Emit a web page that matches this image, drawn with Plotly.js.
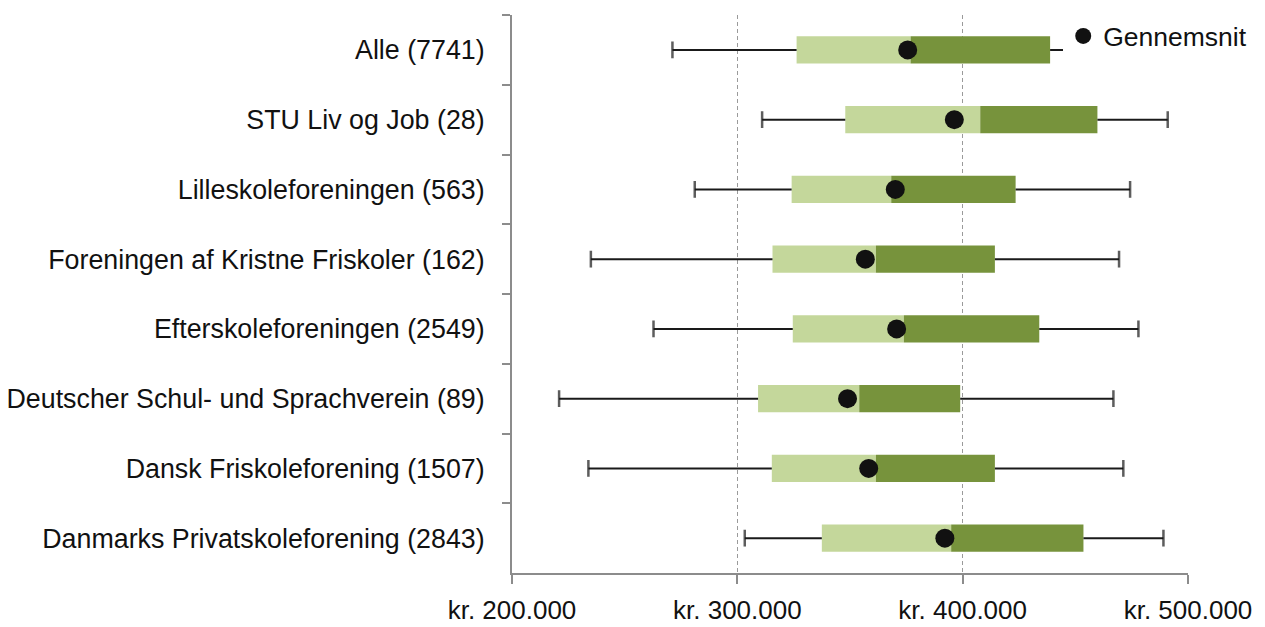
<!DOCTYPE html>
<html>
<head>
<meta charset="utf-8">
<script src="https://cdn.plot.ly/plotly-3.0.1.min.js"></script>
<style>html,body{margin:0;padding:0;background:#fff;}#chart{width:1265px;height:627px;}</style>
</head>
<body>
<div id="chart"></div>
<script>
// Data (kr.)
const categories = [
  "Alle (7741)",
  "STU Liv og Job (28)",
  "Lilleskoleforeningen (563)",
  "Foreningen af Kristne Friskoler (162)",
  "Efterskoleforeningen (2549)",
  "Deutscher Schul- und Sprachverein (89)",
  "Dansk Friskoleforening (1507)",
  "Danmarks Privatskoleforening (2843)"
];
const minVals    = [271200, 311000, 281100, 235000, 262800, 220900, 233900, 303300];
const q1Vals     = [326300, 347900, 324100, 315600, 324600, 309200, 315300, 337500];
const medianVals = [376900, 407800, 368300, 361500, 373900, 354100, 361500, 394900];
const q3Vals     = [438800, 459800, 423500, 414300, 434000, 398900, 414300, 453600];
const maxVals    = [454800, 491000, 474300, 469400, 478000, 466900, 471300, 489100];
const meanVals   = [375600, 396300, 370100, 356800, 370700, 348900, 358300, 392100];
const tickVals   = [200000, 300000, 400000, 500000];
const tickLabels = ["kr. 200.000", "kr. 300.000", "kr. 400.000", "kr. 500.000"];
const meanLabel  = "Gennemsnit";

const FONT = "Liberation Sans, Arial, sans-serif";

const lowerBox = {
  type: "bar", orientation: "h", y: categories,
  base: q1Vals, x: q1Vals.map((v, i) => medianVals[i] - v),
  marker: { color: "#C4D79B" }, width: 0.39, showlegend: false, hoverinfo: "skip"
};
const upperBox = {
  type: "bar", orientation: "h", y: categories,
  base: medianVals, x: medianVals.map((v, i) => q3Vals[i] - v),
  marker: { color: "#77933C" }, width: 0.39, showlegend: false, hoverinfo: "skip"
};

// Whiskers
const wx = [], wy = [], ws = [];
categories.forEach((c, i) => {
  wx.push(minVals[i], q1Vals[i], null, q3Vals[i], maxVals[i], null);
  wy.push(c, c, null, c, c, null);
  ws.push(12, 0, 0, 0, 12, 0);
});
const whiskers = {
  type: "scatter", mode: "lines+markers", x: wx, y: wy,
  line: { color: "#1a1a1a", width: 2 },
  marker: { symbol: "line-ns", size: ws, color: "#1a1a1a", line: { color: "#1a1a1a", width: 2.5 } },
  showlegend: false, hoverinfo: "skip", connectgaps: false
};

const means = {
  type: "scatter", mode: "markers", x: meanVals, y: categories, name: meanLabel,
  marker: { color: "#111", size: 19, symbol: "circle" }, showlegend: true
};

const layout = {
  width: 1265, height: 627,
  margin: { l: 512, r: 77, t: 15, b: 54, pad: 0 },
  paper_bgcolor: "#fff", plot_bgcolor: "#fff",
  barmode: "overlay",
  font: { family: FONT, size: 26, color: "#111" },
  showlegend: true,
  legend: {
    xref: "paper", yref: "paper",
    x: 1.095, xanchor: "right", y: 1.005, yanchor: "top",
    bgcolor: "#fff", font: { family: FONT, size: 26.5, color: "#111" },
    borderwidth: 0, tracegroupgap: 0
  },
  xaxis: {
    range: [200000, 500000], tickvals: tickVals, ticktext: tickLabels,
    showgrid: true, gridcolor: "#9a9a9a", griddash: "4px,3px", gridwidth: 1.5,
    showline: true, linecolor: "#8c8c8c", linewidth: 2,
    ticks: "outside", ticklen: 9, tickcolor: "#8c8c8c", tickwidth: 2,
    ticklabelstandoff: 4,
    zeroline: false, automargin: false, tickfont: { family: FONT, size: 26, color: "#111" },
    fixedrange: true
  },
  yaxis: {
    type: "category", categoryorder: "array", categoryarray: categories,
    range: [7.5, -0.5], autorange: false,
    showline: true, linecolor: "#8c8c8c", linewidth: 2,
    ticks: "outside", tickson: "boundaries", ticklen: 8, tickcolor: "#8c8c8c", tickwidth: 2,
    showgrid: false, ticklabelstandoff: 20, automargin: false,
    tickfont: { family: FONT, size: 26.8, color: "#111" }, fixedrange: true
  }
};

Plotly.newPlot("chart", [lowerBox, upperBox, whiskers, means], layout, { displayModeBar: false, staticPlot: true });
</script>
</body>
</html>
